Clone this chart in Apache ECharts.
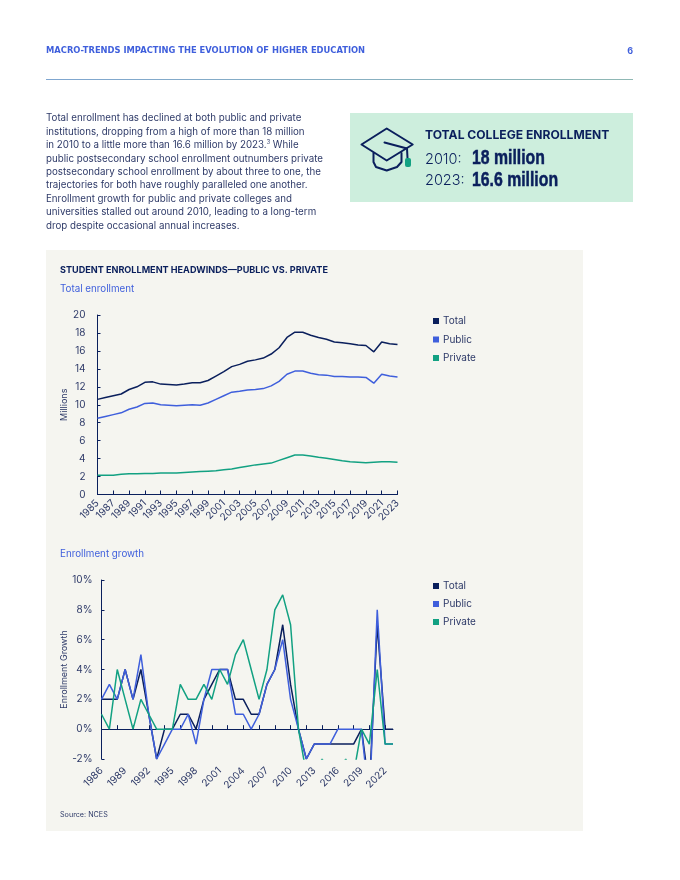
<!DOCTYPE html>
<html>
<head>
<meta charset="utf-8">
<title>Student enrollment headwinds</title>
<script src="https://cdn.jsdelivr.net/npm/echarts@6/dist/echarts.min.js"></script>
<style>
  html, body { margin: 0; padding: 0; background: #fff; }
  #page { width: 680px; height: 880px; }
</style>
</head>
<body>
<div id="page"></div>
<script>
  const enrollYears = []
  for (let y = 1985; y <= 2023; y++) enrollYears.push(String(y))
  const growthYears = enrollYears.slice(1)

  const seriesNames = ['Total', 'Public', 'Private']

  // millions
  const totalEnroll = [10.6, 10.8, 11.0, 11.2, 11.7, 12.0, 12.5, 12.55, 12.3, 12.25, 12.2, 12.3, 12.45, 12.45, 12.7, 13.2, 13.7, 14.25, 14.5, 14.85, 15.0, 15.2, 15.65, 16.35, 17.5, 18.08, 18.08, 17.75, 17.5, 17.3, 17.0, 16.9, 16.8, 16.65, 16.6, 15.9, 17.0, 16.8, 16.7]
  const publicEnroll = [8.5, 8.7, 8.9, 9.1, 9.5, 9.75, 10.15, 10.2, 10.0, 9.95, 9.9, 9.95, 10.0, 9.95, 10.2, 10.6, 11.0, 11.4, 11.5, 11.65, 11.7, 11.8, 12.1, 12.6, 13.4, 13.75, 13.75, 13.5, 13.35, 13.3, 13.15, 13.15, 13.1, 13.1, 13.05, 12.4, 13.4, 13.2, 13.1]
  const privateEnroll = [2.15, 2.15, 2.15, 2.25, 2.3, 2.3, 2.35, 2.35, 2.4, 2.4, 2.4, 2.45, 2.5, 2.55, 2.6, 2.65, 2.75, 2.85, 3.0, 3.15, 3.3, 3.4, 3.5, 3.8, 4.1, 4.4, 4.4, 4.3, 4.15, 4.05, 3.9, 3.75, 3.65, 3.6, 3.55, 3.6, 3.65, 3.65, 3.6]

  // percent, some run below the -2% floor and get clipped like the original
  const totalGrowth = [2, 2, 2, 4, 2, 4, 1, -2, 0, 0, 1, 1, 0, 2, 3, 4, 4, 2, 2, 1, 1, 3, 4, 7, 3, 0, -2, -1, -1, -1, -1, -1, -1, 0, -4, 7, 0, 0]
  const publicGrowth = [2, 3, 2, 4, 2, 5, 1, -2, -1, 0, 0, 1, -1, 2, 4, 4, 4, 1, 1, 0, 1, 3, 4, 6, 2, 0, -2, -1, -1, -1, 0, 0, 0, 0, -5, 8, -1, -1]
  const privateGrowth = [1, 0, 4, 2, 0, 2, 1, 0, 0, 0, 3, 2, 2, 3, 2, 4, 3, 5, 6, 4, 2, 4, 8, 9, 7, 0, -3, -3, -2, -3, -3, -2, -3, 0, -1, 4, -1, -1]

  const bodyLines = [
    'Total enrollment has declined at both public and private',
    'institutions, dropping from a high of more than 18 million',
    'in 2010 to a little more than 16.6 million by 2023.{sup|3} While',
    'public postsecondary school enrollment outnumbers private',
    'postsecondary school enrollment by about three to one, the',
    'trajectories for both have roughly paralleled one another.',
    'Enrollment growth for public and private colleges and',
    'universities stalled out around 2010, leading to a long-term',
    'drop despite occasional annual increases.'
  ]

  const NAVY = '#0a1f5c'
  const BLUE = '#3f5fdc'
  const TEAL = '#12a182'
  const INK = '#2e3a68'
  const FONT = 'Inter, "Noto Sans", sans-serif'
  const WIDE = '"DejaVu Sans", sans-serif'
  const HEAVY = '"Liberation Sans", sans-serif'
  const colors = [NAVY, BLUE, TEAL]

  function label(x, y, text, size, color, weight, extra) {
    return {
      type: 'text',
      x: x,
      y: y,
      silent: true,
      style: Object.assign({
        text: text,
        fontSize: size,
        fontFamily: FONT,
        fontWeight: weight || 400,
        fill: color,
        verticalAlign: 'middle'
      }, extra || {})
    }
  }

  // the big figures are a heavy condensed face in the original, squeeze a bold one
  function bigFigure(x, y, text) {
    const el = label(x, y, text, 20, NAVY, 700, { fontFamily: HEAVY, stroke: NAVY, lineWidth: 0.5 })
    el.scaleX = 0.79
    return el
  }

  function capIcon() {
    const stroke = { stroke: NAVY, lineWidth: 2, fill: null, lineJoin: 'round', lineCap: 'round' }
    return [
      { type: 'polygon', shape: { points: [[386.7, 128.5], [361.5, 144.5], [386.7, 160.5], [412.7, 144.5]] }, style: stroke },
      { type: 'polyline', shape: { points: [[373.5, 153], [373.5, 162], [376, 167], [386.7, 170.5], [397, 167], [401.5, 162], [401.5, 153]] }, style: stroke },
      { type: 'polyline', shape: { points: [[384.5, 142.5], [407, 148.5], [407.5, 158]] }, style: stroke },
      { type: 'rect', shape: { x: 405, y: 158, width: 6, height: 9, r: 2 }, style: { fill: TEAL } }
    ]
  }

  function makeSeries(data, xAxisIndex, yAxisIndex) {
    return data.map((d, i) => ({
      name: seriesNames[i],
      type: 'line',
      xAxisIndex: xAxisIndex,
      yAxisIndex: yAxisIndex,
      data: d,
      symbol: 'none',
      smooth: false,
      clip: true,
      animation: false,
      lineStyle: { color: colors[i], width: 1.5 },
      itemStyle: { color: colors[i] }
    }))
  }

  const axisLine = { lineStyle: { color: NAVY, width: 1 } }
  const tickLine = { lineStyle: { color: NAVY, width: 1 } }
  const tickFont = { color: INK, fontSize: 10, fontFamily: FONT }

  const legendBase = {
    orient: 'vertical',
    left: 428,
    icon: 'rect',
    itemWidth: 6,
    itemHeight: 6,
    data: seriesNames,
    textStyle: { color: INK, fontSize: 10, fontFamily: FONT, padding: [0, 0, 0, -1], lineHeight: 12 }
  }

  const everyThird = (i) => i % 3 === 0
  const everySecond = (i) => i % 2 === 0

  const ruleFill = new echarts.graphic.LinearGradient(0, 0, 1, 0, [
    { offset: 0, color: '#7fa6d0' },
    { offset: 1, color: '#8fb8b4' }
  ])

  const graphicEls = [
    { type: 'rect', z: -10, shape: { x: 46, y: 250, width: 537, height: 581 }, style: { fill: '#f5f5f0' } },
    { type: 'rect', z: -10, shape: { x: 350, y: 113, width: 283, height: 89 }, style: { fill: '#cdeedd' } },
    { type: 'rect', z: -10, shape: { x: 46, y: 79, width: 587, height: 1 }, style: { fill: ruleFill } },
    label(46, 51, 'MACRO-TRENDS IMPACTING THE EVOLUTION OF HIGHER EDUCATION', 8.35, BLUE, 700, { fontFamily: WIDE }),
    label(633, 51, '6', 9, BLUE, 700, { align: 'right' }),
    label(425, 135, 'TOTAL COLLEGE ENROLLMENT', 12.1, NAVY, 700),
    label(425, 159.5, '2010:', 14.5, NAVY, 300),
    label(425, 180.5, '2023:', 14.5, NAVY, 300),
    bigFigure(472, 158.5, '18 million'),
    bigFigure(472, 180, '16.6 million'),
    label(60, 270, 'STUDENT ENROLLMENT HEADWINDS\u2014PUBLIC VS. PRIVATE', 9.1, NAVY, 700),
    label(60, 289, 'Total enrollment', 9.8, BLUE, 400),
    label(60, 554, 'Enrollment growth', 9.8, BLUE, 400),
    label(60, 815, 'Source: NCES', 7.2, INK, 400)
  ]
  bodyLines.forEach((line, i) => {
    graphicEls.push(label(46, 118.5 + i * 13.4, line, 9.75, INK, 400, {
      rich: { sup: { fontSize: 5.5, fontFamily: FONT, fill: INK, padding: [0, 0, 5, 0] } }
    }))
  })
  capIcon().forEach((el) => { el.silent = true; graphicEls.push(el) })

  const chart = echarts.init(document.getElementById('page'), null, { renderer: 'canvas' })
  chart.setOption({
    animation: false,
    backgroundColor: '#fff',
    textStyle: { fontFamily: FONT },
    graphic: { elements: graphicEls },
    legend: [
      Object.assign({ top: 310, itemGap: 6.5 }, legendBase),
      Object.assign({ top: 575, itemGap: 6 }, legendBase)
    ],
    grid: [
      { left: 97.5, top: 315, width: 300, height: 179.5, containLabel: false },
      { left: 101.5, top: 580, width: 291.5, height: 179, containLabel: false }
    ],
    xAxis: [
      {
        type: 'category',
        gridIndex: 0,
        data: enrollYears,
        boundaryGap: false,
        axisLine: axisLine,
        axisTick: { inside: true, length: 4, interval: (i) => everySecond(i), lineStyle: tickLine.lineStyle },
        axisLabel: Object.assign({ rotate: 45, margin: 7, interval: (i) => everySecond(i) }, tickFont)
      },
      {
        // labels along the bottom of the growth panel
        type: 'category',
        gridIndex: 1,
        data: growthYears,
        boundaryGap: false,
        position: 'bottom',
        axisLine: { show: false, onZero: false },
        axisTick: { show: false },
        axisLabel: Object.assign({ rotate: 45, margin: 10, interval: (i) => everyThird(i) }, tickFont)
      },
      {
        // the baseline at 0%
        type: 'category',
        gridIndex: 1,
        data: growthYears,
        boundaryGap: false,
        position: 'bottom',
        axisLine: { show: true, onZero: true, lineStyle: axisLine.lineStyle },
        axisTick: { show: true, inside: true, length: 4, interval: (i) => everySecond(i), lineStyle: tickLine.lineStyle },
        axisLabel: { show: false }
      }
    ],
    yAxis: [
      {
        type: 'value',
        gridIndex: 0,
        min: 0,
        max: 20,
        interval: 2,
        name: 'Millions',
        nameLocation: 'middle',
        nameGap: 26,
        nameTextStyle: { color: INK, fontSize: 9, fontFamily: FONT },
        axisLine: Object.assign({ show: true }, axisLine),
        axisTick: { show: true, inside: true, length: 3, lineStyle: tickLine.lineStyle },
        splitLine: { show: false },
        axisLabel: Object.assign({ margin: 12 }, tickFont)
      },
      {
        type: 'value',
        gridIndex: 1,
        min: -2,
        max: 10,
        interval: 2,
        name: 'Enrollment Growth',
        nameLocation: 'middle',
        nameGap: 28,
        nameTextStyle: { color: INK, fontSize: 9, fontFamily: FONT },
        axisLine: Object.assign({ show: true, onZero: false }, axisLine),
        axisTick: { show: true, inside: true, length: 3, lineStyle: tickLine.lineStyle },
        splitLine: { show: false },
        axisLabel: Object.assign({ margin: 9, formatter: '{value}%' }, tickFont)
      }
    ],
    series: makeSeries([totalEnroll, publicEnroll, privateEnroll], 0, 0)
      .concat(makeSeries([totalGrowth, publicGrowth, privateGrowth], 1, 1))
  })
</script>
</body>
</html>
